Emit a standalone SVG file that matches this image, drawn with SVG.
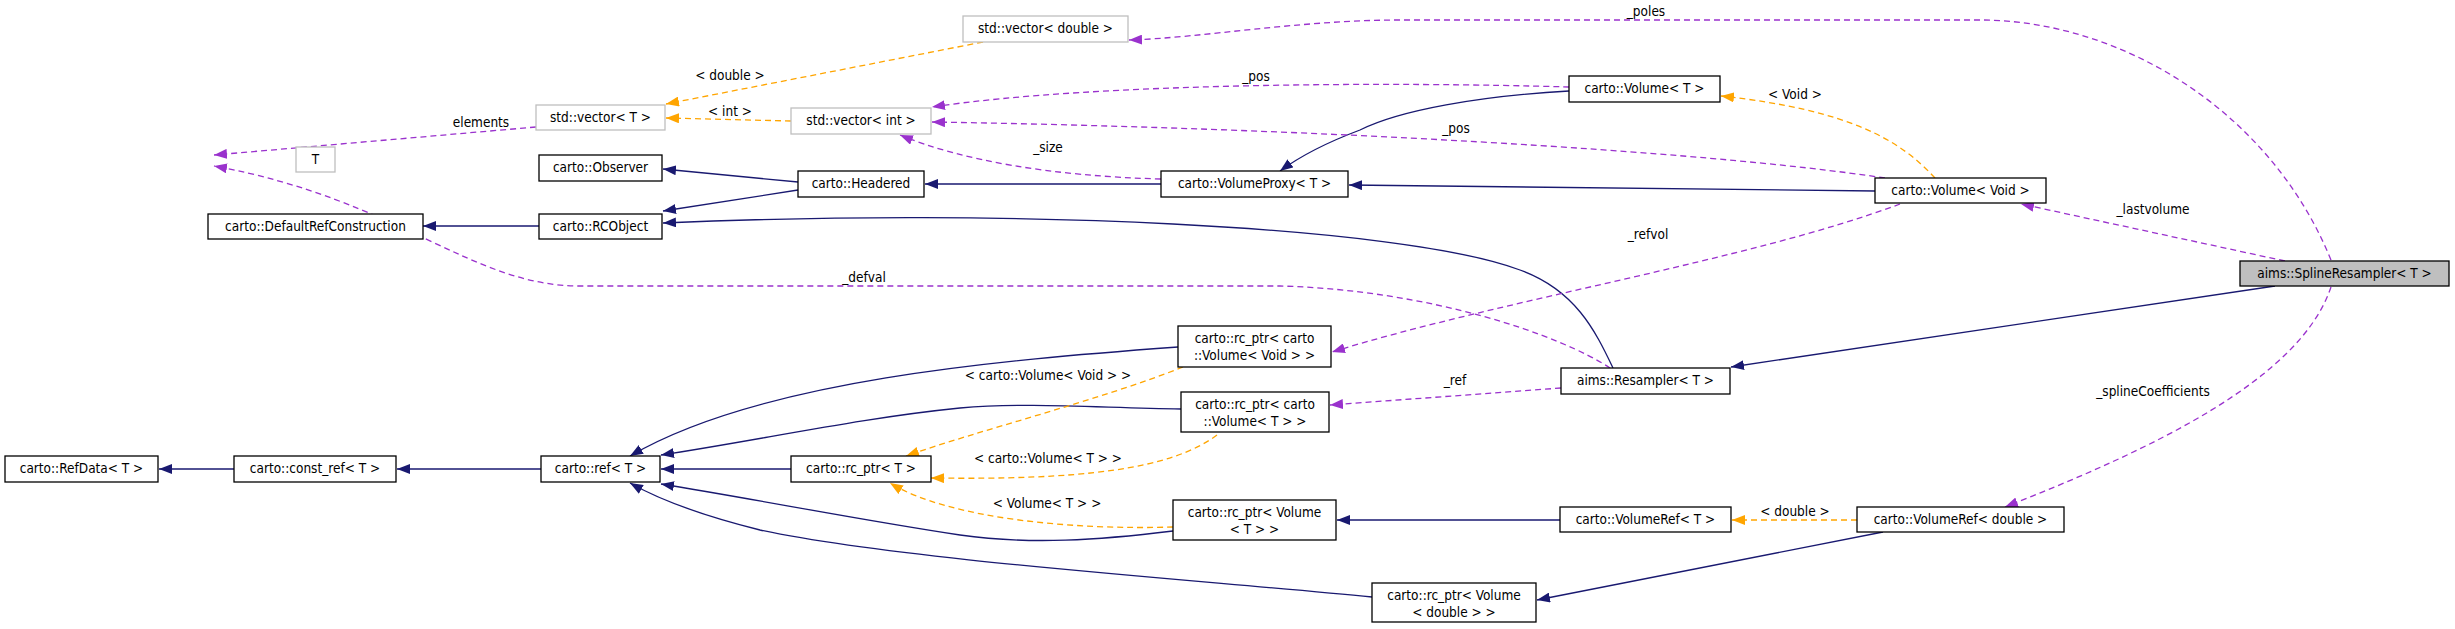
<svg xmlns="http://www.w3.org/2000/svg" width="2455" height="629" viewBox="0 0 2455 629">
<style>
text{font-family:"DejaVu Sans Condensed","DejaVu Sans",sans-serif;font-stretch:condensed;font-size:13.5px;fill:#000}
.n rect{fill:#fff;stroke:#000;stroke-width:1.3}
.g rect{fill:#fff;stroke:#bfbfbf;stroke-width:1.3}
.c{text-anchor:middle}
.inh{fill:none;stroke:#191970;stroke-width:1.3;marker-end:url(#mb)}
.tpl{fill:none;stroke:#ffa500;stroke-width:1.3;stroke-dasharray:6,4;marker-end:url(#mo)}
.mem{fill:none;stroke:#9a32cd;stroke-width:1.3;stroke-dasharray:6,4;marker-end:url(#mp)}
</style>
<defs>
<marker id="mb" markerUnits="userSpaceOnUse" markerWidth="14" markerHeight="10" refX="13" refY="5" orient="auto"><path d="M0,0 L13,5 L0,10 z" fill="#191970"/></marker>
<marker id="mo" markerUnits="userSpaceOnUse" markerWidth="14" markerHeight="10" refX="13" refY="5" orient="auto"><path d="M0,0 L13,5 L0,10 z" fill="#ffa500"/></marker>
<marker id="mp" markerUnits="userSpaceOnUse" markerWidth="14" markerHeight="10" refX="13" refY="5" orient="auto"><path d="M0,0 L13,5 L0,10 z" fill="#9a32cd"/></marker>
</defs>
<rect width="2455" height="629" fill="#fff"/>
<g id="edges">
<path class="inh" d="M798,182 L663,169"/>
<path class="inh" d="M798,190 L663,211"/>
<path class="inh" d="M1613,368 C1595,330 1575,290 1520,270 C1400,225 1000,208 663,223"/>
<path class="inh" d="M539,226 L423,226"/>
<path class="inh" d="M1161,184 L925,184"/>
<path class="inh" d="M1569,91 C1480,96 1400,110 1360,130 C1320,145 1295,160 1280,171"/>
<path class="inh" d="M1875,191 L1349,185"/>
<path class="inh" d="M2275,286 L1731,367"/>
<path class="inh" d="M234,469 L159,469"/>
<path class="inh" d="M541,469 L397,469"/>
<path class="inh" d="M1178,347 C1000,360 760,380 630,456"/>
<path class="inh" d="M1181,409 C1100,408 1030,402 960,408 C860,418 760,440 661,455"/>
<path class="inh" d="M791,469 L661,469"/>
<path class="inh" d="M1173,531 C1100,540 1030,545 960,535 C860,520 760,500 661,484"/>
<path class="inh" d="M1372,597 C1200,580 900,560 760,530 C700,515 660,500 630,483"/>
<path class="inh" d="M1560,520 L1337,520"/>
<path class="inh" d="M1883,532 L1537,600"/>
<path class="tpl" d="M983,42 L666,104"/>
<path class="tpl" d="M791,121 L666,118"/>
<path class="tpl" d="M1935,178 C1900,140 1850,110 1721,96"/>
<path class="tpl" d="M1183,367 C1100,400 980,430 906,456"/>
<path class="tpl" d="M1217,435 C1170,470 1080,480 931,478"/>
<path class="tpl" d="M1173,527 C1080,530 950,520 890,483"/>
<path class="tpl" d="M1857,520 L1732,520"/>
<path class="mem" d="M536,127 L214,155"/>
<path class="mem" d="M1610,368 C1560,335 1430,290 1280,286 L580,286 C470,286 400,200 214,166"/>
<path class="mem" d="M2331,260 C2270,110 2120,20 1980,20 L1400,20 C1300,20 1200,38 1129,40"/>
<path class="mem" d="M1569,87 C1400,82 1100,82 932,107"/>
<path class="mem" d="M1885,178 C1700,150 1300,128 932,122"/>
<path class="mem" d="M1161,179 C1050,176 960,160 900,135"/>
<path class="mem" d="M2285,261 L2021,204"/>
<path class="mem" d="M1900,204 C1750,260 1500,300 1332,352"/>
<path class="mem" d="M1561,388 L1330,405"/>
<path class="mem" d="M2331,287 C2300,380 2150,450 2005,507"/>
</g>
<g id="labels">
<text class="c" x="481" y="127">elements</text>
<text class="c" x="730" y="80">&lt; double &gt;</text>
<text class="c" x="730" y="116">&lt; int &gt;</text>
<text class="c" x="1646" y="16">_poles</text>
<text class="c" x="1256" y="81">_pos</text>
<text class="c" x="1456" y="133">_pos</text>
<text class="c" x="1048" y="152">_size</text>
<text class="c" x="1795" y="99">&lt; Void &gt;</text>
<text class="c" x="2153" y="214">_lastvolume</text>
<text class="c" x="1648" y="239">_refvol</text>
<text class="c" x="864" y="282">_defval</text>
<text class="c" x="1048" y="380">&lt; carto::Volume&lt; Void &gt; &gt;</text>
<text class="c" x="1048" y="463">&lt; carto::Volume&lt; T &gt; &gt;</text>
<text class="c" x="1047" y="508">&lt; Volume&lt; T &gt; &gt;</text>
<text class="c" x="1455" y="385">_ref</text>
<text class="c" x="1795" y="516">&lt; double &gt;</text>
<text class="c" x="2153" y="396">_splineCoefficients</text>
</g>
<g id="n_spline" class="n"><rect x="2240" y="261" width="209" height="25" style="fill:#bfbfbf"/><text class="c" x="2344.5" y="278">aims::SplineResampler&lt; T &gt;</text></g>
<g id="n_vecdouble" class="g"><rect x="963" y="16" width="165" height="26"/><text class="c" x="1045.5" y="33">std::vector&lt; double &gt;</text></g>
<g id="n_vecT" class="g"><rect x="536" y="105" width="129" height="25"/><text class="c" x="600.5" y="122">std::vector&lt; T &gt;</text></g>
<g id="n_T" class="g"><rect x="296" y="147" width="39" height="25"/><text class="c" x="315.5" y="164">T</text></g>
<g id="n_vecint" class="g"><rect x="791" y="108" width="140" height="26"/><text class="c" x="861" y="125">std::vector&lt; int &gt;</text></g>
<g id="n_observer" class="n"><rect x="539" y="155" width="123" height="26"/><text class="c" x="600.5" y="172">carto::Observer</text></g>
<g id="n_headered" class="n"><rect x="798" y="171" width="126" height="26"/><text class="c" x="861" y="188">carto::Headered</text></g>
<g id="n_drc" class="n"><rect x="208" y="214" width="215" height="25"/><text class="c" x="315.5" y="231">carto::DefaultRefConstruction</text></g>
<g id="n_rcobject" class="n"><rect x="539" y="214" width="123" height="25"/><text class="c" x="600.5" y="231">carto::RCObject</text></g>
<g id="n_proxy" class="n"><rect x="1161" y="171" width="187" height="26"/><text class="c" x="1254.5" y="188">carto::VolumeProxy&lt; T &gt;</text></g>
<g id="n_volT" class="n"><rect x="1569" y="76" width="151" height="26"/><text class="c" x="1644.5" y="93">carto::Volume&lt; T &gt;</text></g>
<g id="n_volVoid" class="n"><rect x="1875" y="178" width="171" height="25"/><text class="c" x="1960.5" y="195">carto::Volume&lt; Void &gt;</text></g>
<g id="n_refdata" class="n"><rect x="5" y="456" width="153" height="26"/><text class="c" x="81.5" y="473">carto::RefData&lt; T &gt;</text></g>
<g id="n_constref" class="n"><rect x="234" y="456" width="162" height="26"/><text class="c" x="315" y="473">carto::const_ref&lt; T &gt;</text></g>
<g id="n_ref" class="n"><rect x="541" y="456" width="119" height="26"/><text class="c" x="600.5" y="473">carto::ref&lt; T &gt;</text></g>
<g id="n_rcptrT" class="n"><rect x="791" y="456" width="140" height="26"/><text class="c" x="861" y="473">carto::rc_ptr&lt; T &gt;</text></g>
<g id="n_rcVoid" class="n"><rect x="1178" y="326" width="153" height="41"/><text class="c" x="1254.5" y="343">carto::rc_ptr&lt; carto</text><text class="c" x="1254.5" y="360">::Volume&lt; Void &gt; &gt;</text></g>
<g id="n_rcVolT" class="n"><rect x="1181" y="392" width="148" height="40"/><text class="c" x="1255" y="409">carto::rc_ptr&lt; carto</text><text class="c" x="1255" y="426">::Volume&lt; T &gt; &gt;</text></g>
<g id="n_rcVolumeT" class="n"><rect x="1173" y="500" width="163" height="40"/><text class="c" x="1254.5" y="517">carto::rc_ptr&lt; Volume</text><text class="c" x="1254.5" y="534">&lt; T &gt; &gt;</text></g>
<g id="n_rcVolDouble" class="n"><rect x="1372" y="583" width="164" height="39"/><text class="c" x="1454" y="600">carto::rc_ptr&lt; Volume</text><text class="c" x="1454" y="617">&lt; double &gt; &gt;</text></g>
<g id="n_resampler" class="n"><rect x="1561" y="368" width="169" height="26"/><text class="c" x="1645.5" y="385">aims::Resampler&lt; T &gt;</text></g>
<g id="n_volrefT" class="n"><rect x="1560" y="507" width="171" height="25"/><text class="c" x="1645.5" y="524">carto::VolumeRef&lt; T &gt;</text></g>
<g id="n_volrefDouble" class="n"><rect x="1857" y="507" width="207" height="25"/><text class="c" x="1960.5" y="524">carto::VolumeRef&lt; double &gt;</text></g>
</svg>
